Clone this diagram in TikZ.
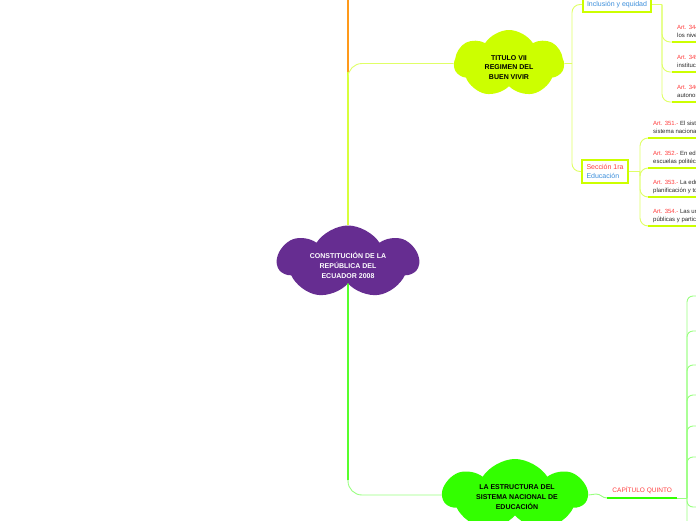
\documentclass[tikz,border=0pt]{standalone}
\usepackage{fontspec}
\setmainfont{Liberation Sans}
\usetikzlibrary{shapes.symbols}
\definecolor{purp}{HTML}{662D91}
\definecolor{limec}{HTML}{CCFF00}
\definecolor{grnc}{HTML}{33FF00}
\definecolor{orngc}{HTML}{FF9A1A}
\definecolor{artred}{HTML}{FF3D3D}
\definecolor{bluetxt}{HTML}{3B8EDB}
\definecolor{bodytxt}{HTML}{2A2A2A}
\newcommand{\artlbl}[1]{\textcolor{artred}{#1}}
\tikzset{
  cloudbg/.style={cloud, cloud puffs=7, cloud puff arc=115, draw=none, inner sep=0pt},
  cloudtxt/.style={align=center, font=\bfseries\fontsize{7}{9.6}\selectfont, inner sep=0pt},
  thinlime/.style={draw=limec!60!white, line width=0.9pt},
  thicklime/.style={draw=limec, line width=2.6pt},
  spinelime/.style={draw=limec!85!white, line width=1.8pt},
  thingrn/.style={draw=grnc!50!white, line width=0.9pt},
  thickgrn/.style={draw=grnc, line width=2.6pt},
  spinegrn/.style={draw=grnc, line width=1.8pt},
  boxnode/.style={draw=limec, line width=1.6pt, fill=white, align=left, inner xsep=4pt, inner ysep=2pt, font=\fontsize{7}{8.2}\selectfont},
  artnode/.style={anchor=south west, align=left, inner xsep=5pt, inner ysep=3.3pt, font=\fontsize{6}{7.3}\selectfont, text=bodytxt},
  capnode/.style={anchor=south west, minimum width=70pt, inner xsep=0pt, inner ysep=4.5pt, font=\fontsize{6.5}{7.5}\selectfont, text=artred},
}
\begin{document}
\begin{tikzpicture}[x=1pt,y=-1pt]
\useasboundingbox (0,0) rectangle (696,520);
\clip (0,0) rectangle (696,520);
\fill[white] (0,0) rectangle (696,520);

% ---- clouds
\node[cloudbg, fill=purp, minimum width=141pt, minimum height=73pt] (pc) at (348,262) {};
\node[cloudtxt, text=white] (pt) at (348,265.5) {CONSTITUCIÓN DE LA\\REPÚBLICA DEL\\ECUADOR 2008};
\node[cloudbg, fill=limec, minimum width=110pt, minimum height=67pt] (tc) at (509,63.5) {};
\node[cloudtxt, text=black] (tt) at (509,67.5) {TITULO VII\\REGIMEN DEL\\BUEN VIVIR};
\node[cloudbg, fill=grnc, minimum width=144pt, minimum height=72pt] (gc) at (515,495) {};
\node[cloudtxt, text=black] (gt) at (517,497) {LA ESTRUCTURA DEL\\SISTEMA NACIONAL DE\\EDUCACIÓN};

% ---- main spine
\coordinate (otop) at (348,-5);
\coordinate (ojoin) at (348,72);
\coordinate (gjoin) at (348,480);
\draw[spinelime] (pc.north) -- (ojoin);
\draw[orngc, line width=2.4pt] (otop) -- (ojoin);
\draw[thinlime, rounded corners=14pt] (pc.north) |- (tc.west);
\draw[spinegrn] (pc.south) -- (gjoin);
\draw[thingrn, rounded corners=14pt] (pc.south) |- (gc.west);

% ---- right of TITULO VII
\coordinate (j2) at (572,63.5);
\draw[thinlime] (tc.east) -- (j2);
\node[boxnode, text=bluetxt, minimum width=68pt, minimum height=15pt] (inc) at (617,4.5) {Inclusión y equidad};
\node[boxnode, minimum width=46pt, minimum height=23pt] (sec) at (605,171.5) {\textcolor{artred}{Sección 1ra}\\\textcolor{bluetxt}{Educación}};
\draw[thinlime, rounded corners=8pt] (j2) |- (inc.west);
\draw[thinlime, rounded corners=8pt] (j2) |- (sec.west);

% ---- Inclusión y equidad children
\coordinate (j3) at (662,4.5);
\draw[thinlime] (inc.east) -- (j3);
\node[artnode] (a1) at (672,42) {\artlbl{Art. 344.-} El sistema nacional de educación comprenderá las instituciones, programas y políticas, así como acciones en\\los niveles de educación inicial, básica y bachillerato.};
\node[artnode] (a2) at (672,72) {\artlbl{Art. 345.-} La educación como servicio público se prestará a través de\\instituciones públicas, fiscomisionales y particulares.};
\node[artnode] (a3) at (672,102) {\artlbl{Art. 346.-} Existirá una institución pública, con\\autonomía, de evaluación integral interna y externa.};
\foreach \n in {a1,a2,a3}{
  \draw[thinlime, rounded corners=8pt] (j3) |- (\n.south west);
  \draw[thicklime] (\n.south west) -- (\n.south east);
}

% ---- Sección 1ra children
\coordinate (j4) at (640,171.5);
\draw[thinlime] (sec.east) -- (j4);
\node[artnode] (b1) at (648,138) {\artlbl{Art. 351.-} El sistema de educación superior estará articulado al\\sistema nacional de educación y al Plan Nacional de Desarrollo.};
\node[artnode] (b2) at (648,168) {\artlbl{Art. 352.-} En educación superior el sistema estará integrado por universidades y\\escuelas politécnicas; institutos superiores técnicos, tecnológicos y pedagógicos.};
\node[artnode] (b3) at (648,197) {\artlbl{Art. 353.-} La educación superior se regirá por un organismo público de\\planificación y todas las instituciones del sistema.};
\node[artnode] (b4) at (648,226) {\artlbl{Art. 354.-} Las universidades y escuelas politécnicas,\\públicas y particulares, se crearán por ley.};
\foreach \n in {b1,b2,b3,b4}{
  \draw[thinlime, rounded corners=8pt] (j4) |- (\n.south west);
  \draw[thicklime] (\n.south west) -- (\n.south east);
}

% ---- CAPÍTULO QUINTO
\node[capnode] (cap) at (607,498) {CAPÍTULO QUINTO};
\coordinate (k) at (687,498);
\draw[thingrn] (gc.east) -- (596,494) .. controls (601,494) and (602,498) .. (cap.south west);
\draw[thickgrn] (cap.south west) -- (cap.south east);
\draw[thingrn] (cap.south east) -- (k);
\foreach \yy [count=\i] in {296,331,365,395,426,457,507,545}{
  \coordinate (r\i) at (705,\yy);
  \draw[thingrn, rounded corners=6pt] (k) |- (r\i);
}
\end{tikzpicture}
\end{document}
